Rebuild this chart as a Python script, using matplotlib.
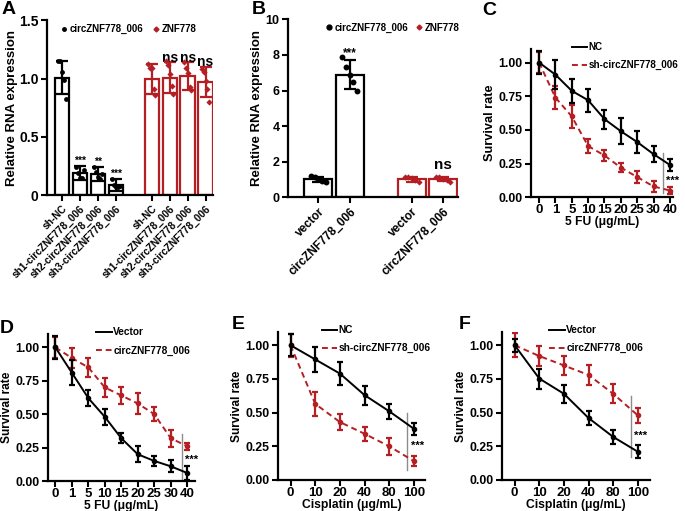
import numpy as np
import matplotlib
matplotlib.use("Agg")
import matplotlib.pyplot as plt
from matplotlib.lines import Line2D

plt.rcParams['font.family'] = ['Liberation Sans', 'DejaVu Sans']
plt.rcParams['font.weight'] = 'bold'
plt.rcParams['axes.labelweight'] = 'bold'

RED = '#B51F24'

# ---- panel A data ----
a_labels = ["sh-NC", "sh1-circZNF778_006", "sh2-circZNF778_006", "sh3-circZNF778_006"]
a_circ_mean = [1.01, 0.19, 0.18, 0.09]
a_circ_sd = [0.14, 0.06, 0.06, 0.05]
a_circ_pts = [[1.15, 1.15, 1.06, 0.99, 0.83],
              [0.24, 0.19, 0.15, 0.15, 0.22],
              [0.24, 0.20, 0.16, 0.14, 0.18],
              [0.14, 0.09, 0.07, 0.07, 0.08]]
a_znf_mean = [1.00, 1.01, 1.02, 0.97]
a_znf_sd = [0.13, 0.13, 0.12, 0.13]
a_znf_pts = [[1.13, 1.09, 1.09, 0.91, 0.86],
             [1.15, 1.12, 1.04, 0.94, 0.87],
             [1.14, 1.09, 1.05, 0.93, 0.90],
             [1.08, 1.06, 0.98, 0.91, 0.80]]
a_circ_sig = ["", "***", "**", "***"]
a_znf_sig = ["", "ns", "ns", "ns"]

# ---- panel B data ----
b_labels = ["vector", "circZNF778_006"]
b_circ_mean = [1.00, 6.90]
b_circ_sd = [0.12, 0.80]
b_circ_pts = [[1.18, 1.12, 1.05, 0.90, 0.85], [7.9, 7.3, 6.9, 6.5, 6.0]]
b_znf_mean = [1.00, 1.02]
b_znf_sd = [0.12, 0.12]
b_znf_pts = [[1.15, 1.12, 1.08, 0.95, 0.85], [1.15, 1.12, 1.05, 0.95, 0.88]]

# ---- survival data ----
fu_doses = ["0", "1", "5", "10", "15", "20", "25", "30", "40"]
cis_doses = ["0", "10", "20", "40", "80", "100"]

c_nc = [1.00, 0.91, 0.79, 0.72, 0.58, 0.49, 0.41, 0.32, 0.24]
c_nc_sd = [0.085, 0.11, 0.09, 0.087, 0.07, 0.095, 0.08, 0.06, 0.045]
c_sh = [1.00, 0.74, 0.60, 0.38, 0.31, 0.22, 0.15, 0.08, 0.05]
c_sh_sd = [0.08, 0.087, 0.087, 0.053, 0.043, 0.033, 0.045, 0.04, 0.025]

d_vec = [1.00, 0.81, 0.62, 0.48, 0.32, 0.20, 0.15, 0.11, 0.06]
d_vec_sd = [0.087, 0.095, 0.06, 0.058, 0.037, 0.06, 0.04, 0.045, 0.05]
d_circ = [1.00, 0.92, 0.85, 0.70, 0.64, 0.58, 0.50, 0.32, 0.26]
d_circ_sd = [0.08, 0.073, 0.072, 0.07, 0.065, 0.08, 0.052, 0.062, 0.027]

e_nc = [1.00, 0.895, 0.79, 0.63, 0.51, 0.38]
e_nc_sd = [0.08, 0.095, 0.088, 0.07, 0.057, 0.043]
e_sh = [1.00, 0.565, 0.43, 0.343, 0.25, 0.14]
e_sh_sd = [0.085, 0.09, 0.062, 0.053, 0.062, 0.037]

f_vec = [1.00, 0.753, 0.64, 0.46, 0.32, 0.21]
f_vec_sd = [0.05, 0.074, 0.065, 0.052, 0.052, 0.047]
f_circ = [1.00, 0.92, 0.85, 0.78, 0.64, 0.48]
f_circ_sd = [0.088, 0.074, 0.07, 0.074, 0.07, 0.055]

fig = plt.figure(figsize=(6.85, 5.11), dpi=100)


def style_axes(ax):
    for s in ['top', 'right']:
        ax.spines[s].set_visible(False)
    for s in ['left', 'bottom']:
        ax.spines[s].set_linewidth(1.6)
    ax.tick_params(width=1.5, length=4, labelsize=9)
    for t in ax.get_xticklabels() + ax.get_yticklabels():
        t.set_fontweight('bold')


jit = np.array([-0.26, -0.13, 0.0, 0.13, 0.26])


def bar_group(ax, pos, means, sds, pts, color, marker, width, ms):
    ax.bar(pos, means, width=width, facecolor='white', edgecolor=color, linewidth=1.6, zorder=1)
    ax.errorbar(pos, means, yerr=sds, fmt='none', ecolor=color, elinewidth=1.6,
                capsize=4, capthick=1.6, zorder=3)
    for p, vals in zip(pos, pts):
        ax.scatter(p + jit * width, vals, s=ms, color=color, marker=marker, zorder=4, linewidths=0)


# ---------- A ----------
axA = fig.add_axes([0.0686, 0.618, 0.242, 0.342])
posA1 = np.arange(4)
posA2 = np.arange(4) + 5
bar_group(axA, posA1, a_circ_mean, a_circ_sd, a_circ_pts, 'black', 'o', 0.8, 12)
bar_group(axA, posA2, a_znf_mean, a_znf_sd, a_znf_pts, RED, 'D', 0.8, 10)
axA.set_xlim(-0.84, 8.4)
axA.set_ylim(0, 1.5)
axA.set_yticks([0, 0.5, 1.0, 1.5])
axA.set_yticklabels(["0", "0.5", "1.0", "1.5"])
axA.set_xticks(list(posA1) + list(posA2))
axA.set_xticklabels(a_labels + a_labels, rotation=45, ha='right', rotation_mode='anchor')
axA.set_ylabel("Relative RNA expression", fontsize=9.5, labelpad=1)
style_axes(axA)
axA.tick_params(axis='y', labelsize=10, pad=2)
axA.tick_params(axis='x', labelsize=7.3, pad=2)
for p, m, s, t in zip(posA1, a_circ_mean, a_circ_sd, a_circ_sig):
    if t:
        axA.text(p, m + s + 0.0, t, ha='center', va='bottom', fontsize=7.5, fontweight='bold')
for p, m, s, t in zip(posA2, a_znf_mean, a_znf_sd, a_znf_sig):
    if t:
        axA.text(p, m + s - 0.02, t, ha='center', va='bottom', fontsize=10, fontweight='bold')
legA = [Line2D([], [], ls='none', marker='o', color='black', ms=2.5, label='circZNF778_006'),
        Line2D([], [], ls='none', marker='D', color=RED, ms=2.5, label='ZNF778')]
axA.legend(handles=legA, loc='upper left', bbox_to_anchor=(0.03, 1.03), ncol=2, frameon=False,
           handlelength=0.6, handletextpad=0.3, columnspacing=1.0,
           prop={'weight': 'bold', 'size': 7})

# ---------- B ----------
axB = fig.add_axes([0.4204, 0.614, 0.248, 0.348])
posB1 = np.array([0, 1])
posB2 = np.array([3, 4])
bar_group(axB, posB1, b_circ_mean, b_circ_sd, b_circ_pts, 'black', 'o', 0.9, 18)
bar_group(axB, posB2, b_znf_mean, b_znf_sd, b_znf_pts, RED, 'D', 0.9, 10)
axB.set_xlim(-0.98, 4.48)
axB.set_ylim(0, 10)
axB.set_yticks([0, 2, 4, 6, 8, 10])
axB.set_xticks(list(posB1) + list(posB2))
axB.set_xticklabels(b_labels + b_labels, rotation=45, ha='right', rotation_mode='anchor')
axB.set_ylabel("Relative RNA expression", fontsize=9.5, labelpad=2)
style_axes(axB)
axB.tick_params(axis='y', labelsize=9, pad=2)
axB.tick_params(axis='x', labelsize=8.5, pad=2)
axB.text(1, b_circ_mean[1] + b_circ_sd[1] + 0.05, "***", ha='center', va='bottom', fontsize=8.5, fontweight='bold')
axB.text(4, 1.4, "ns", ha='center', va='bottom', fontsize=11, fontweight='bold')
legB = [Line2D([], [], ls='none', marker='o', color='black', ms=3.5, label='circZNF778_006'),
        Line2D([], [], ls='none', marker='D', color=RED, ms=2.5, label='ZNF778')]
axB.legend(handles=legB, loc='upper left', bbox_to_anchor=(0.17, 1.03), ncol=2, frameon=False,
           handlelength=0.6, handletextpad=0.3, columnspacing=0.8,
           prop={'weight': 'bold', 'size': 7})


# ---------- survival panels ----------
def survival(rect, doses, ys1, sd1, ys2, sd2, lab1, lab2, xlabel, xlim, leg_x, sig_x, sig_y, star_xy,
             ylab_size=8.6, leg_size=7.3):
    ax = fig.add_axes(rect)
    x = np.arange(len(doses))
    ax.errorbar(x, ys2, yerr=sd2, fmt='o', ls=(0, (3, 2)), color=RED, ms=3, lw=1.4,
                elinewidth=1.6, capsize=2.5, capthick=1.6, zorder=2)
    ax.errorbar(x, ys1, yerr=sd1, fmt='o', ls='-', color='black', ms=3, lw=1.4,
                elinewidth=1.6, capsize=2.5, capthick=1.6, zorder=3)
    ax.set_xlim(*xlim)
    ax.set_ylim(0, 1.1)
    ax.set_yticks([0, 0.25, 0.5, 0.75, 1.0])
    ax.set_yticklabels(["0.00", "0.25", "0.50", "0.75", "1.00"])
    ax.set_xticks(x)
    ax.set_xticklabels(doses)
    ax.set_xlabel(xlabel, fontsize=8.7, labelpad=0)
    ax.set_ylabel("Survival rate", fontsize=ylab_size, labelpad=2)
    style_axes(ax)
    ax.tick_params(axis='y', labelsize=8.8, pad=2)
    ax.tick_params(axis='x', labelsize=9.5, pad=1)
    ax.plot([sig_x, sig_x], sig_y, color='#8c8c8c', lw=1)
    ax.text(star_xy[0], star_xy[1], "***", ha='center', va='center', fontsize=8, fontweight='bold')
    handles = [Line2D([], [], color='black', lw=1.4, label=lab1),
               Line2D([], [], color=RED, lw=1.4, ls=(0, (3, 2)), label=lab2)]
    ax.legend(handles=handles, loc='upper left', bbox_to_anchor=(leg_x, 1.045), frameon=False,
              handlelength=1.5, handletextpad=0.15, labelspacing=0.8, borderpad=0, borderaxespad=0,
              prop={'weight': 'bold', 'size': leg_size})
    return ax


survival([0.775, 0.614, 0.207, 0.29], fu_doses, c_nc, c_nc_sd, c_sh, c_sh_sd,
         "NC", "sh-circZNF778_006", "5 FU (μg/mL)", (-0.5, 8.17), 0.29,
         7.59, [0.03, 0.33], (8.18, 0.124), ylab_size=9.2, leg_size=7.1)
survival([0.070, 0.0587, 0.2146, 0.2877], fu_doses, d_vec, d_vec_sd, d_circ, d_circ_sd,
         "Vector", "circZNF778_006", "5 FU (μg/mL)", (-0.45, 8.47), 0.33,
         7.69, [0.0, 0.35], (8.24, 0.16))
survival([0.4058, 0.0607, 0.2146, 0.29], cis_doses, e_nc, e_nc_sd, e_sh, e_sh_sd,
         "NC", "sh-circZNF778_006", "Cisplatin (μg/mL)", (-0.51, 5.45), 0.30,
         4.73, [0.075, 0.50], (5.15, 0.25))
survival([0.733, 0.0607, 0.216, 0.29], cis_doses, f_vec, f_vec_sd, f_circ, f_circ_sd,
         "Vector", "circZNF778_006", "Cisplatin (μg/mL)", (-0.51, 5.5), 0.32,
         4.72, [0.17, 0.62], (5.1, 0.33))

# panel letters
for lab, x, y in [("A", 2, 1), ("B", 252, 1), ("C", 482, 2),
                  ("D", 0, 320), ("E", 232, 316), ("F", 459, 316)]:
    fig.text(x / 685, 1 - y / 511, lab, fontsize=14, fontweight='bold', va='top', ha='left')

fig.savefig("out.png", dpi=100)
